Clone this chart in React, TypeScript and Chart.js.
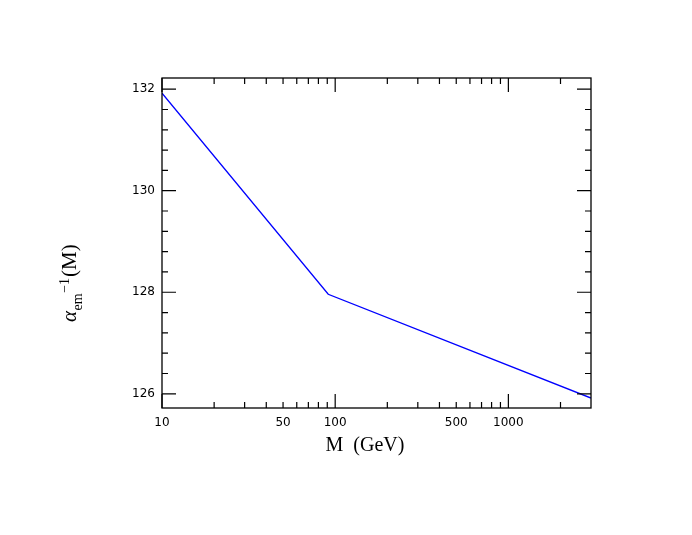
import React, { useEffect, useRef } from "react";
import { Chart, registerables } from "chart.js";

Chart.register(...registerables);

const massGeV = [10, 91.19, 3000];
const alphaInv = [131.92, 127.96, 125.915];
const xLabelValues = [10, 50, 100, 500, 1000];
const xMajorTicks = [10, 100, 1000];
const xMinorTicks = [20, 30, 40, 50, 60, 70, 80, 90, 200, 300, 400, 500, 600, 700, 800, 900, 2000];
const yLabelValues = [126, 128, 130, 132];
const yMinorTicks = [126.4, 126.8, 127.2, 127.6, 128.4, 128.8, 129.2, 129.6, 130.4, 130.8, 131.2, 131.6];

const framePlugin = {
  id: "framePlugin",
  afterDraw(chart: any) {
    const ctx = chart.ctx;
    const a = chart.chartArea;
    const xs = chart.scales.x;
    const ys = chart.scales.y;
    ctx.save();
    ctx.strokeStyle = "#000";
    ctx.lineWidth = 1.3;
    ctx.strokeRect(a.left, a.top, a.right - a.left, a.bottom - a.top);
    ctx.lineWidth = 1.2;
    ctx.beginPath();
    const tickX = (v: number, len: number) => {
      const px = xs.getPixelForValue(v);
      ctx.moveTo(px, a.bottom);
      ctx.lineTo(px, a.bottom - len);
      ctx.moveTo(px, a.top);
      ctx.lineTo(px, a.top + len);
    };
    const tickY = (v: number, len: number) => {
      const py = ys.getPixelForValue(v);
      ctx.moveTo(a.left, py);
      ctx.lineTo(a.left + len, py);
      ctx.moveTo(a.right, py);
      ctx.lineTo(a.right - len, py);
    };
    xMajorTicks.forEach((v) => tickX(v, 14));
    xMinorTicks.forEach((v) => tickX(v, 6));
    yLabelValues.forEach((v) => tickY(v, 14));
    yMinorTicks.forEach((v) => tickY(v, 6));
    ctx.stroke();

    // x title
    ctx.fillStyle = "#000";
    ctx.font = "20px 'Liberation Serif'";
    ctx.textAlign = "center";
    ctx.textBaseline = "alphabetic";
    ctx.fillText("M  (GeV)", 365, 451);

    // y title (rotated)
    ctx.translate(76, 322);
    ctx.rotate(-Math.PI / 2);
    ctx.textAlign = "left";
    let x = 0;
    ctx.font = "italic 21px 'Liberation Serif'";
    ctx.fillText("α", x, 0);
    x += ctx.measureText("α").width + 0.5;
    ctx.font = "14px 'Liberation Serif'";
    ctx.fillText("em", x, 6);
    x += ctx.measureText("em").width + 0.5;
    ctx.fillText("−1", x, -7);
    x += ctx.measureText("−1").width + 1;
    ctx.font = "21px 'Liberation Serif'";
    ctx.fillText("(M)", x, 0);
    ctx.restore();
  },
};

export default function App() {
  const ref = useRef<HTMLCanvasElement>(null);
  useEffect(() => {
    if (!ref.current) return;
    const chart = new Chart(ref.current, {
      type: "line",
      data: {
        datasets: [
          {
            data: massGeV.map((m, i) => ({ x: m, y: alphaInv[i] })),
            borderColor: "#0000ff",
            borderWidth: 1.4,
            pointRadius: 0,
            fill: false,
            tension: 0,
          },
        ],
      },
      options: {
        responsive: false,
        animation: false,
        layout: { padding: { left: 0, top: 78, right: 101, bottom: 0 } },
        plugins: { legend: { display: false }, tooltip: { enabled: false } },
        scales: {
          x: {
            type: "logarithmic",
            min: 10,
            max: 3000,
            grid: { display: false, drawTicks: false },
            border: { display: false },
            afterBuildTicks: (s: any) => {
              s.ticks = xLabelValues.map((v) => ({ value: v }));
            },
            afterFit: (s: any) => {
              s.height = 535 - 408;
            },
            ticks: {
              autoSkip: false,
              maxRotation: 0,
              padding: 8,
              color: "#000",
              font: { family: "'DejaVu Sans'", size: 12 },
              callback: (v: any) => String(v),
            },
          },
          y: {
            type: "linear",
            min: 125.72,
            max: 132.22,
            grid: { display: false, drawTicks: false },
            border: { display: false },
            afterBuildTicks: (s: any) => {
              s.ticks = yLabelValues.map((v) => ({ value: v }));
            },
            afterFit: (s: any) => {
              s.width = 162;
            },
            ticks: {
              padding: 7,
              color: "#000",
              font: { family: "'DejaVu Sans'", size: 12 },
              callback: (v: any) => String(v),
            },
          },
        },
      },
      plugins: [framePlugin],
    });
    return () => chart.destroy();
  }, []);
  return (
    <div style={{ position: "fixed", left: 0, top: 0, width: 692, height: 535, background: "#fff" }}>
      <canvas ref={ref} width={692} height={535} style={{ width: 692, height: 535 }} />
    </div>
  );
}
